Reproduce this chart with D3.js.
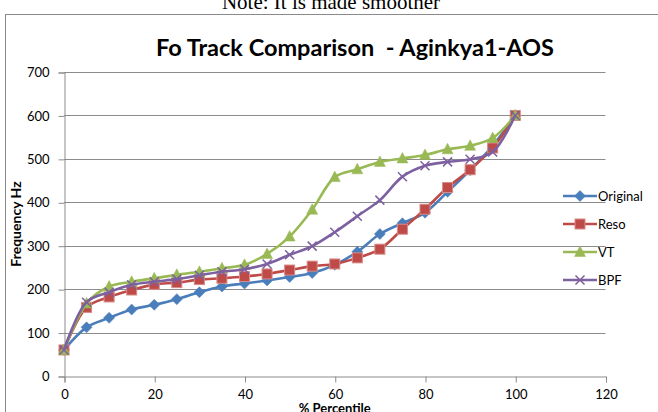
<!DOCTYPE html>
<html><head><meta charset="utf-8">
<script src="https://cdn.jsdelivr.net/npm/d3@7"></script>
<style>html,body{margin:0;padding:0;background:#fff;}svg{display:block;}</style>
</head><body>
<svg id="c" width="658" height="412"></svg>
<script>
const percentiles = [0,5,10,15,20,25,30,35,40,45,50,55,60,65,70,75,80,85,90,95,100];
const original = [60,112,134,153,164,177,193,206,213,220,228,237,256,286,327,352,376,424,474,530,600];
const reso     = [60,158,182,198,211,215,222,225,229,235,244,253,258,272,292,338,384,434,475,525,600];
const vt       = [60,167,206,217,225,233,240,248,256,281,321,383,458,476,493,501,509,522,530,548,600];
const bpf      = [60,170,193,210,217,223,232,240,246,258,279,299,331,368,405,459,484,493,499,516,600];
const seriesNames = ["Original","Reso","VT","BPF"];
const xTicks = [0,20,40,60,80,100,120];
const yTicks = [0,100,200,300,400,500,600,700];

const svg = d3.select("#c");
const font = "Lato, 'Open Sans', sans-serif";
const colors = ["#4A7EBB","#BE4B48","#98B954","#7D60A0"];
const shapes = ["diamond","square","triangle","x"];
const data = [original, reso, vt, bpf];

// caption (cut off at top)
svg.append("text").attr("x",331).attr("y",9).attr("text-anchor","middle")
  .attr("font-family","'Liberation Serif', 'DejaVu Serif', serif").attr("font-size",21)
  .attr("fill","#000").text("Note: It is made smoother");

// chart frame
svg.append("rect").attr("x",5.5).attr("y",14.5).attr("width",700).attr("height",450)
  .attr("fill","none").attr("stroke","#8a8a8a").attr("stroke-width",1);

const x = d3.scaleLinear().domain([0,120]).range([64,605.5]);
const y = d3.scaleLinear().domain([0,700]).range([376,72]);

// title
svg.append("text").attr("x",355).attr("y",56).attr("text-anchor","middle")
  .attr("font-family",font).attr("font-weight","bold").attr("font-size",23.5)
  .attr("fill","#000").text("Fo Track Comparison  - Aginkya1-AOS").style("white-space","pre");

// gridlines
svg.append("g").selectAll("line").data(yTicks.filter(d=>d>0)).join("line")
  .attr("x1",x(0)).attr("x2",x(120)).attr("y1",d=>Math.round(y(d))+0.5).attr("y2",d=>Math.round(y(d))+0.5)
  .attr("stroke","#8c8c8c").attr("stroke-width",1);

// axes
const yAxis = d3.axisLeft(y).tickValues(yTicks).tickSize(6).tickPadding(9);
const gy = svg.append("g").attr("transform",`translate(${Math.round(x(0))+0.5},0.5)`).call(yAxis);
const xAxis = d3.axisBottom(x).tickValues(xTicks).tickSize(6).tickPadding(7);
const gx = svg.append("g").attr("transform",`translate(0.5,${Math.round(y(0))+0.5})`).call(xAxis);
[gx,gy].forEach(g=>{
  g.select(".domain").attr("stroke","#8c8c8c");
  g.selectAll(".tick line").attr("stroke","#8c8c8c");
  g.selectAll(".tick text").attr("font-family",font).attr("font-size",13).attr("fill","#000");
});

// axis titles
svg.append("text").attr("x",x(60)).attr("y",413).attr("text-anchor","middle")
  .attr("font-family",font).attr("font-weight","bold").attr("font-size",13).attr("fill","#000").text("% Percentile");
svg.append("text").attr("transform",`translate(21,${(y(0)+y(700))/2}) rotate(-90)`).attr("text-anchor","middle")
  .attr("font-family",font).attr("font-weight","bold").attr("font-size",14).attr("fill","#000").text("Frequency Hz");

function marker(g, shape, color, cx, cy){
  if(shape==="diamond"){
    g.append("path").attr("d",`M${cx},${cy-5.5}L${cx+5.5},${cy}L${cx},${cy+5.5}L${cx-5.5},${cy}Z`).attr("fill",color).attr("stroke",color).attr("stroke-width",0.5);
  } else if(shape==="square"){
    g.append("rect").attr("x",cx-5).attr("y",cy-5).attr("width",10).attr("height",10).attr("fill",color).attr("stroke","#d98a88").attr("stroke-width",1);
  } else if(shape==="triangle"){
    g.append("path").attr("d",`M${cx},${cy-6}L${cx+5.5},${cy+4.5}L${cx-5.5},${cy+4.5}Z`).attr("fill",color).attr("stroke",color).attr("stroke-width",0.5);
  } else {
    g.append("path").attr("d",`M${cx-4.5},${cy-4.5}L${cx+4.5},${cy+4.5}M${cx+4.5},${cy-4.5}L${cx-4.5},${cy+4.5}`).attr("stroke",color).attr("stroke-width",1.5).attr("fill","none");
  }
}

const line = d3.line().x(d=>x(d[0])).y(d=>y(d[1])).curve(d3.curveCatmullRom.alpha(0.5));
data.forEach((vals,i)=>{
  const pts = percentiles.map((p,j)=>[p,vals[j]]);
  const g = svg.append("g");
  g.append("path").datum(pts).attr("d",line).attr("fill","none").attr("stroke",colors[i]).attr("stroke-width",2.6).attr("stroke-linejoin","round");
  pts.forEach(p=>marker(g, shapes[i], colors[i], x(p[0]), y(p[1])));
});

// legend
const legY = [196,224,252,280];
seriesNames.forEach((n,i)=>{
  const g = svg.append("g");
  g.append("line").attr("x1",563).attr("x2",597).attr("y1",legY[i]).attr("y2",legY[i]).attr("stroke",colors[i]).attr("stroke-width",2.6);
  marker(g, shapes[i], colors[i], 580, legY[i]);
  g.append("text").attr("x",598).attr("y",legY[i]).attr("dy","0.35em").attr("font-family",font).attr("font-size",13).attr("fill","#000").text(n);
});
</script>
</body></html>
